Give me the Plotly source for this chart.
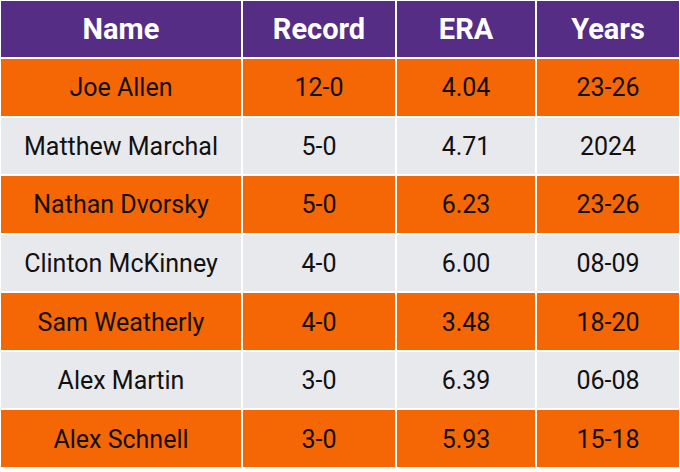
import plotly.graph_objects as go

columns = ["Name", "Record", "ERA", "Years"]
names = ["Joe Allen", "Matthew Marchal", "Nathan Dvorsky", "Clinton McKinney",
         "Sam Weatherly", "Alex Martin", "Alex Schnell"]
records = ["12-0", "5-0", "5-0", "4-0", "4-0", "3-0", "3-0"]
eras = ["4.04", "4.71", "6.23", "6.00", "3.48", "6.39", "5.93"]
years = ["23-26", "2024", "23-26", "08-09", "18-20", "06-08", "15-18"]

PURPLE = "#552D84"
ORANGE = "#F56704"
GRAY = "#E8E9EC"

W, H = 680, 472
HEADER_H = 58
BODY_BOTTOM = 468
col_edges = [0, 242, 396, 536, 680]
n_rows = len(names)
row_h = (BODY_BOTTOM - HEADER_H) / n_rows
row_edges = [HEADER_H + i * row_h for i in range(n_rows + 1)]

body_text = [[n, r, e, y] for n, r, e, y in zip(names, records, eras, years)]
body_z = [[i % 2] * len(columns) for i in range(n_rows)]

fig = go.Figure()

# header row
fig.add_trace(go.Heatmap(
    x=col_edges,
    y=[0, HEADER_H],
    z=[[0] * len(columns)],
    text=[columns],
    texttemplate="<b>%{text}</b>",
    textfont=dict(family="Roboto", size=29, color="white"),
    colorscale=[[0, PURPLE], [1, PURPLE]],
    showscale=False,
    xgap=2,
    ygap=2,
    hoverinfo="skip",
))

# body rows
fig.add_trace(go.Heatmap(
    x=col_edges,
    y=row_edges,
    z=body_z,
    text=body_text,
    texttemplate="%{text}",
    textfont=dict(family="Roboto", size=25, color="#111111"),
    colorscale=[[0, ORANGE], [0.5, ORANGE], [0.5, GRAY], [1, GRAY]],
    zmin=0,
    zmax=1,
    showscale=False,
    xgap=2,
    ygap=2,
    hoverinfo="skip",
))

fig.update_xaxes(range=[0, W], visible=False, fixedrange=True)
fig.update_yaxes(range=[H, 0], visible=False, fixedrange=True)

fig.update_layout(
    width=W,
    height=H,
    margin=dict(l=0, r=0, t=0, b=0),
    paper_bgcolor="white",
    plot_bgcolor="white",
    showlegend=False,
)

fig.write_html(
    "out.html",
    config={"displayModeBar": False},
    post_script="document.body.style.margin='0';",
)
